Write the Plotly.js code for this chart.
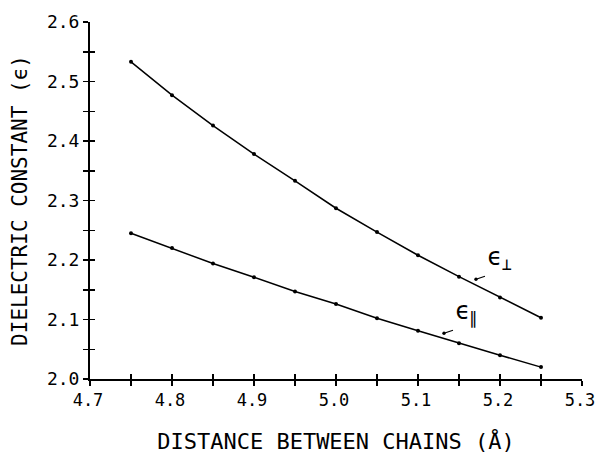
<!DOCTYPE html>
<html>
<head>
<meta charset="utf-8">
<script src="https://cdn.plot.ly/plotly-3.0.1.min.js"></script>
<style>html,body{margin:0;padding:0;background:#fff;}#chart{width:596px;height:454px;}</style>
</head>
<body>
<div id="chart"></div>
<script>
const distance = [4.75, 4.80, 4.85, 4.90, 4.95, 5.00, 5.05, 5.10, 5.15, 5.20, 5.25];
const epsPerp = [2.533, 2.477, 2.426, 2.378, 2.333, 2.287, 2.247, 2.208, 2.172, 2.137, 2.103];
const epsPar  = [2.245, 2.220, 2.194, 2.171, 2.147, 2.126, 2.102, 2.081, 2.060, 2.040, 2.020];
const xTicks = [4.7, 4.8, 4.9, 5.0, 5.1, 5.2, 5.3];
const xTickText = ['4.7', '4.8', '4.9', '5.0', '5.1', '5.2', '5.3'];
const yTicks = [2.0, 2.1, 2.2, 2.3, 2.4, 2.5, 2.6];
const yTickText = ['2.0', '2.1', '2.2', '2.3', '2.4', '2.5', '2.6'];

const font = 'DejaVu Sans Mono, monospace';
const lineStyle = {color: '#000', width: 1.5};
const markerStyle = {color: '#000', size: 4};

const traces = [
  {x: distance, y: epsPerp, mode: 'lines+markers', line: lineStyle, marker: markerStyle, showlegend: false, hoverinfo: 'skip'},
  {x: distance, y: epsPar, mode: 'lines+markers', line: lineStyle, marker: markerStyle, showlegend: false, hoverinfo: 'skip'},
  // same data on the overlay axes (invisible) so the inward half of each crossing tick is drawn
  {x: distance, y: epsPar, xaxis: 'x2', yaxis: 'y2', mode: 'lines', opacity: 0, line: {width: 0}, showlegend: false, hoverinfo: 'skip'}
];

const layout = {
  width: 596, height: 454,
  margin: {l: 90, r: 14, t: 22, b: 75},
  paper_bgcolor: '#fff', plot_bgcolor: '#fff',
  font: {family: font, color: '#000'},
  xaxis: {
    range: [4.7, 5.3], tickvals: xTicks, ticktext: xTickText,
    showgrid: false, zeroline: false, showline: true, linecolor: '#000', linewidth: 2,
    ticks: 'outside', ticklen: 5, tickwidth: 1.5, tickcolor: '#000',
    minor: {dtick: 0.05, tick0: 4.7, ticks: 'outside', ticklen: 5, tickwidth: 1.5, tickcolor: '#000', showgrid: false},
    tickfont: {family: font, size: 17}, ticklabeloverflow: 'allow', ticklabelshift: -2,
    title: {text: 'DISTANCE BETWEEN CHAINS (Å)', font: {family: font, size: 22}, standoff: 24}
  },
  yaxis: {
    range: [2.0, 2.6], tickvals: yTicks, ticktext: yTickText,
    showgrid: false, zeroline: false, showline: true, linecolor: '#000', linewidth: 2,
    ticks: 'outside', ticklen: 5, tickwidth: 1.5, tickcolor: '#000',
    minor: {dtick: 0.05, tick0: 2.0, ticks: 'outside', ticklen: 5, tickwidth: 1.5, tickcolor: '#000', showgrid: false},
    tickfont: {family: font, size: 18}, ticklabeloverflow: 'allow',
    title: {text: 'DIELECTRIC CONSTANT (ϵ)', font: {family: font, size: 21}, standoff: 14}
  },
  xaxis2: {
    overlaying: 'x', anchor: 'y', side: 'bottom', range: [4.7, 5.3], tickmode: 'linear', dtick: 0.05, tick0: 4.7,
    showticklabels: false, showgrid: false, zeroline: false, showline: false,
    ticks: 'inside', ticklen: 5, tickwidth: 1.5, tickcolor: '#000'
  },
  yaxis2: {
    overlaying: 'y', anchor: 'x', side: 'left', range: [2.0, 2.6], tickmode: 'linear', dtick: 0.05, tick0: 2.0,
    showticklabels: false, showgrid: false, zeroline: false, showline: false,
    ticks: 'inside', ticklen: 5, tickwidth: 1.5, tickcolor: '#000'
  },
  annotations: [
    {x: 5.1707, y: 2.1676, xref: 'x', yref: 'y', text: 'ϵ<sub>⊥</sub>', showarrow: true,
     arrowhead: 6, arrowsize: 0.7, arrowwidth: 1.2, arrowcolor: '#000', ax: 9, ay: -3,
     xanchor: 'left', yanchor: 'bottom', font: {family: font, size: 24, color: '#000'}},
    {x: 5.1317, y: 2.0768, xref: 'x', yref: 'y', text: 'ϵ<sub>∥</sub>', showarrow: true,
     arrowhead: 6, arrowsize: 0.7, arrowwidth: 1.2, arrowcolor: '#000', ax: 9, ay: -3,
     xanchor: 'left', yanchor: 'bottom', font: {family: font, size: 24, color: '#000'}}
  ]
};

Plotly.newPlot('chart', traces, layout, {staticPlot: true, displayModeBar: false});
</script>
</body>
</html>
